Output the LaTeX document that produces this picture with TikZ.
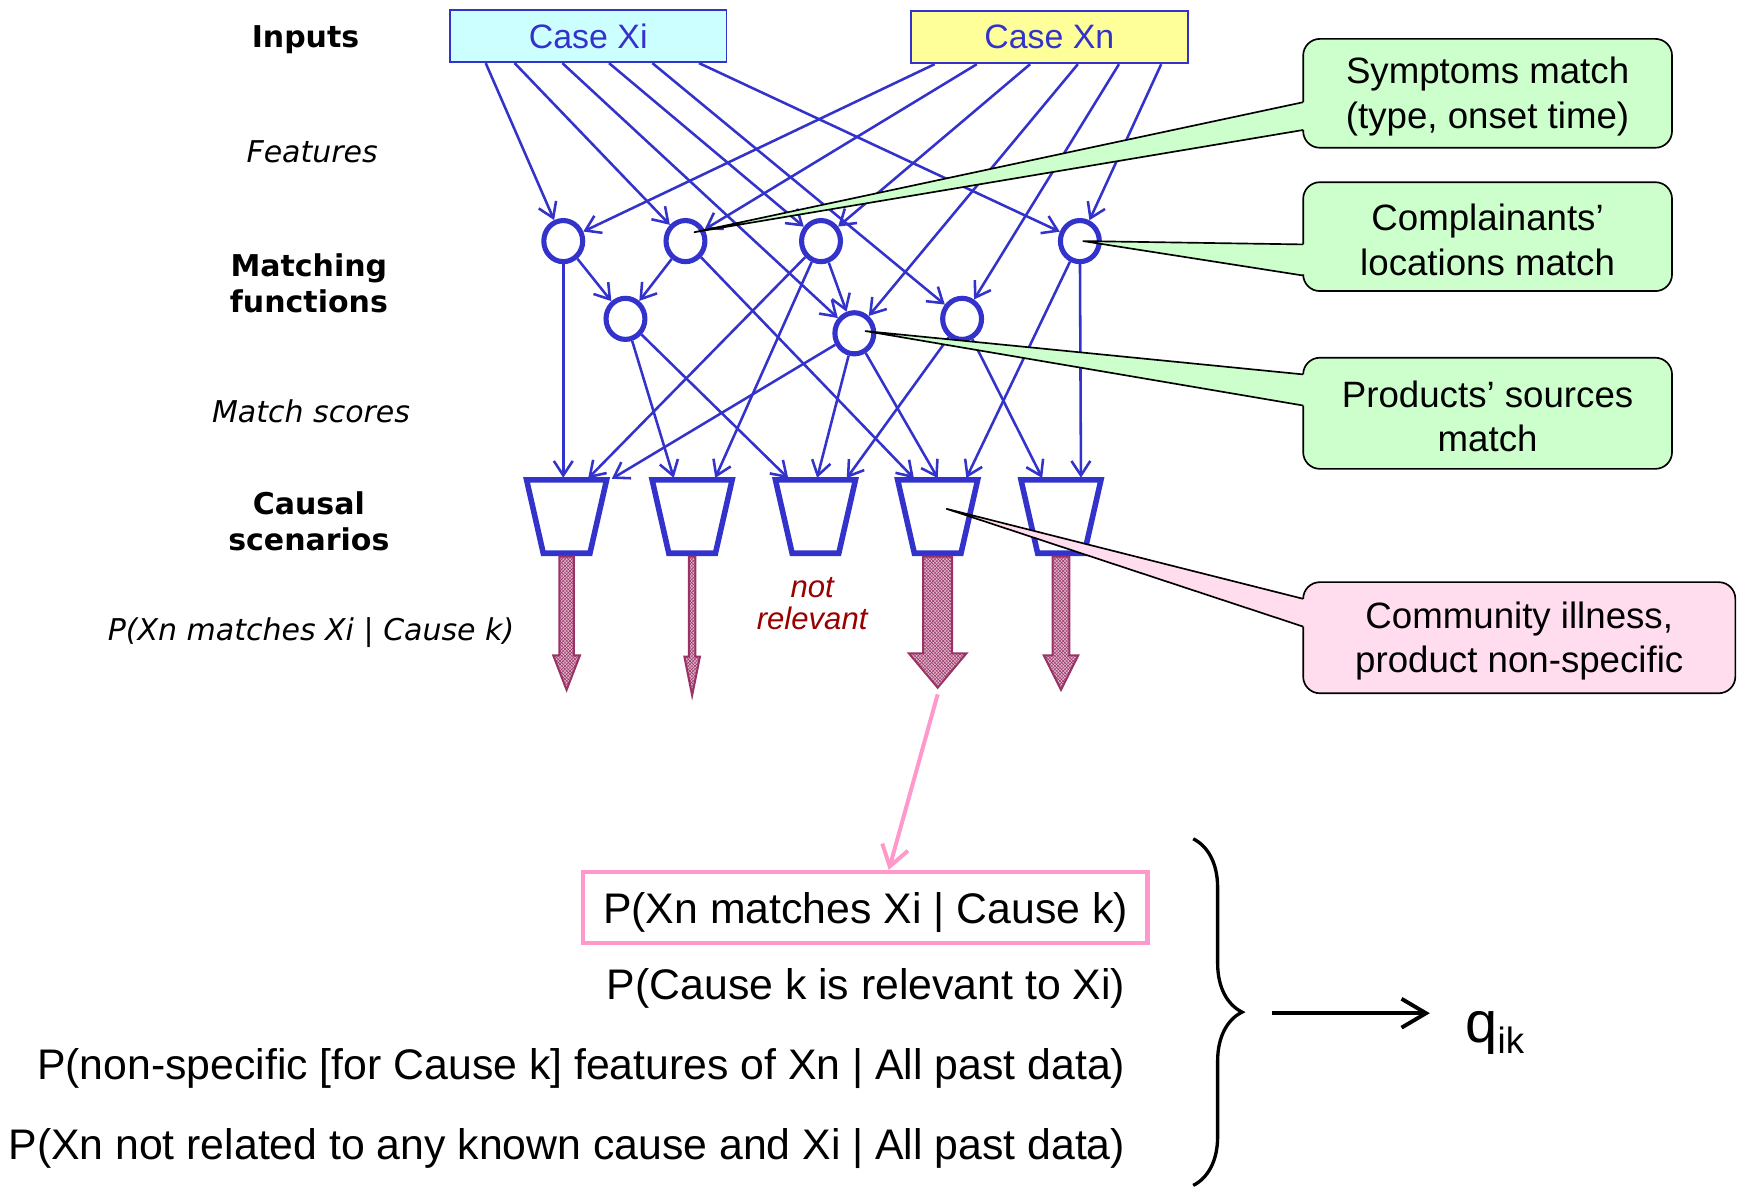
\documentclass[tikz,border=0pt]{standalone}
\usepackage{fontspec}
\setmainfont{Liberation Sans}
\newfontfamily\verdfont{DejaVu Sans}
\usetikzlibrary{arrows.meta,calc,decorations.pathreplacing,shapes.geometric,patterns}
\definecolor{cblue}{RGB}{51,51,204}
\definecolor{ccyan}{RGB}{204,255,255}
\definecolor{cyel}{RGB}{255,255,153}
\definecolor{cgreen}{RGB}{204,255,204}
\definecolor{cpinkfill}{RGB}{255,221,238}
\definecolor{cpink}{RGB}{255,153,204}
\definecolor{cmaroon}{RGB}{153,51,102}
\definecolor{cmarfill}{RGB}{225,185,205}
\definecolor{cdred}{RGB}{153,0,0}
% thick hatched arrow below a trapezoid: #1 node, #2 shaft half width, #3 head half width, #4 head start, #5 tip
\newcommand\fatarr[5]{%
  \draw[fatarrow] ($(#1.south)+(-#2,3)$) -- ($(#1.south)+(-#2,#4)$) -- ($(#1.south)+(-#3,#4)$) -- ($(#1.south)+(0,#5)$) -- ($(#1.south)+(#3,#4)$) -- ($(#1.south)+(#2,#4)$) -- ($(#1.south)+(#2,3)$) -- cycle;}
% callout: #1 box node, #2 fill, #3 tip coordinate, #4 upper wedge offset, #5 lower wedge offset
\newcommand\calloutshape[5]{%
  \fill[#2, rounded corners=15pt] (#1.north west) rectangle (#1.south east);
  \fill[#2] (#3) -- ($(#1.west)+(3,#4)$) -- ($(#1.west)+(3,#5)$) -- cycle;
  \draw[cline, rounded corners=15pt] ($(#1.west)+(0,#5)$) -- (#1.south west) -- (#1.south east) -- (#1.north east) -- (#1.north west) -- ($(#1.west)+(0,#4)$);
  \draw[cline, line join=round] ($(#1.west)+(0,#4)$) -- (#3) -- ($(#1.west)+(0,#5)$);}
\begin{document}
\begin{tikzpicture}[x=1pt,y=-1pt,
  mf/.style={ellipse, draw=cblue, line width=4.6pt, minimum width=35pt, minimum height=37pt, inner sep=0pt, fill=white},
  conn/.style={cblue, line width=2.3pt, -{Straight Barb[length=13pt,width=17pt]}},
  tz/.style={inner sep=0pt, outer sep=0pt, minimum width=72pt, minimum height=66pt},
  tzline/.style={draw=cblue, line width=5pt, line join=miter},
  casebox/.style={draw=cblue, line width=1.6pt, minimum width=249pt, minimum height=47pt, inner sep=0pt, text=cblue, font=\fontsize{30.5}{32}\selectfont},
  lblb/.style={align=center, font=\verdfont\bfseries\fontsize{27}{32}\selectfont},
  lbli/.style={align=center, font=\verdfont\itshape\fontsize{27}{32}\selectfont},
  cbox/.style={inner sep=0pt, outer sep=0pt},
  ctext/.style={align=center, font=\fontsize{33}{40}\selectfont},
  cline/.style={draw=black, line width=1.5pt},
  fatarrow/.style={draw=cmaroon, line width=1.8pt, line join=miter, preaction={fill=cmarfill}, pattern=crosshatch, pattern color=cmaroon},
  btext/.style={anchor=base east, inner sep=0pt, font=\fontsize{38.5}{40}\selectfont}
]
\useasboundingbox (0,0) rectangle (1568,1069);

% left labels
\node[lblb] (lin) at (275,36) {Inputs};
\node[lbli] (lfe) at (281,137) {Features};
\node[lblb] (lmf) at (278,255) {Matching\\functions};
\node[lbli] (lms) at (280,370) {Match scores};
\node[lblb] (lcs) at (278,469) {Causal\\scenarios};
\node[lbli] (lpx) at (280,569) {P(Xn matches Xi | Cause k)};

% inputs
\node[casebox, fill=ccyan] (xi) at (529.5,32.5) {Case Xi};
\node[casebox, fill=cyel] (xn) at (944.5,33.5) {Case Xn};

% matching functions
\node[mf] (c1) at (507,217) {};
\node[mf] (c2) at (617,217) {};
\node[mf] (c3) at (739,217) {};
\node[mf] (c4) at (972,217) {};
\node[mf] (c5) at (563,287) {};
\node[mf] (c6) at (769,300) {};
\node[mf] (c7) at (866,287) {};

% causal scenarios
\node[tz] (t1) at (510,465) {};
\node[tz] (t2) at (623,465) {};
\node[tz] (t3) at (734,465) {};
\node[tz] (t4) at (844,465) {};
\node[tz] (t5) at (955,465) {};
\foreach \t in {t1,t2,t3,t4,t5}
  \draw[tzline] (\t.north west) -- (\t.north east) -- ($(\t.south east)+(-15,0)$) -- ($(\t.south west)+(15,0)$) -- cycle;

% connectors from inputs
\foreach \dx/\c in {33/c1,59/c2,102/c6,144/c3,183/c7,225/c4}
  \draw[conn] ($(xi.south west)+(\dx,0)$) -- (\c);
\foreach \dx/\c in {22/c1,60/c2,108/c3,151/c6,188/c7,226/c4}
  \draw[conn] ($(xn.south west)+(\dx,0)$) -- (\c);

% circle to circle
\draw[conn] (c1) -- (c5);
\draw[conn] (c2) -- (c5);
\draw[conn] (c3) -- (c6);

% circle to trapezoid
\foreach \c/\t/\dx in {c1/t1/33, c3/t1/54, c6/t1/75, c5/t2/20, c3/t2/56, c5/t3/13, c6/t3/37, c7/t3/63, c2/t4/16, c6/t4/37, c4/t4/61, c7/t5/20, c4/t5/54}
  \draw[conn, shorten >=2pt] (\c) -- ($(\t.north west)+(\dx,0)$);

% thick hatched arrows
\fatarr{t1}{6.5}{12}{92}{123}
\fatarr{t2}{3}{7}{93}{128}
\fatarr{t4}{13}{26}{90}{121}
\fatarr{t5}{7.5}{15.5}{92}{123}

\node[font=\itshape\fontsize{28}{29}\selectfont, text=cdred, align=center] (nr) at (731,543) {not\\relevant};

% pink box and connector
\coordinate (t4tip) at ($(t4.south)+(0,127)$);
\node[draw=cpink, line width=4pt, minimum width=508pt, minimum height=64pt, inner sep=0pt] (pbox) at (779,817) {};
\node[anchor=base, inner sep=0pt, font=\fontsize{38.5}{40}\selectfont] (ptext) at (779,831) {P(Xn matches Xi | Cause k)};
\draw[cpink, line width=3.6pt, -{Straight Barb[length=18pt,width=24pt]}] (t4tip) -- ($(pbox.north)+(21,0)$);

\node[btext] (l2) at (1013,900) {P(Cause k is relevant to Xi)};
\node[btext] (l3) at (1013,972) {P(non-specific [for Cause k] features of Xn | All past data)};
\node[btext] (l4) at (1013,1044) {P(Xn not related to any known cause and Xi | All past data)};

% brace, arrow, q
\coordinate (btop) at (1074,755);
\coordinate (bbot) at (1074,1067);
\draw[line width=3pt, decorate, decoration={brace, amplitude=44pt}] (btop) -- (bbot);
\node[anchor=base west, inner sep=0pt, font=\fontsize{52}{52}\selectfont] (q) at (1319,938) {q\raisebox{-10pt}{\fontsize{33}{33}\selectfont ik}};
\coordinate (ain) at (1145,912);
\draw[line width=3.5pt, shorten >=32pt, -{Straight Barb[length=22pt,width=26pt]}] (ain) -- (ain -| q.west);

% callouts
\node[cbox, minimum width=332pt, minimum height=98pt] (sym) at (1339,84) {};
\coordinate (symtip) at ($(c2)+(8,-8)$);
\calloutshape{sym}{cgreen}{symtip}{8}{33}
\node[ctext] (symt) at ($(sym)+(0,3)$) {Symptoms match\\(type, onset time)};

\node[cbox, minimum width=332pt, minimum height=98pt] (loc) at (1339,213) {};
\coordinate (loctip) at ($(c4)+(3,0)$);
\calloutshape{loc}{cgreen}{loctip}{7}{35}
\node[ctext] (loct) at ($(loc)+(0,3)$) {Complainants’\\locations match};

\node[cbox, minimum width=332pt, minimum height=100pt] (prod) at (1339,372) {};
\coordinate (prodtip) at ($(c6)+(10,-2)$);
\calloutshape{prod}{cgreen}{prodtip}{-35}{-7}
\node[ctext] (prodt) at ($(prod)+(0,3)$) {Products’ sources\\match};

\node[cbox, minimum width=389pt, minimum height=100pt] (comm) at (1367.5,574) {};
\coordinate (commtip) at ($(t4.center)+(8,-7)$);
\calloutshape{comm}{cpinkfill}{commtip}{-35}{-10}
\node[ctext] (commt) at ($(comm)+(0,3)$) {Community illness,\\product non-specific};
\end{tikzpicture}
\end{document}
